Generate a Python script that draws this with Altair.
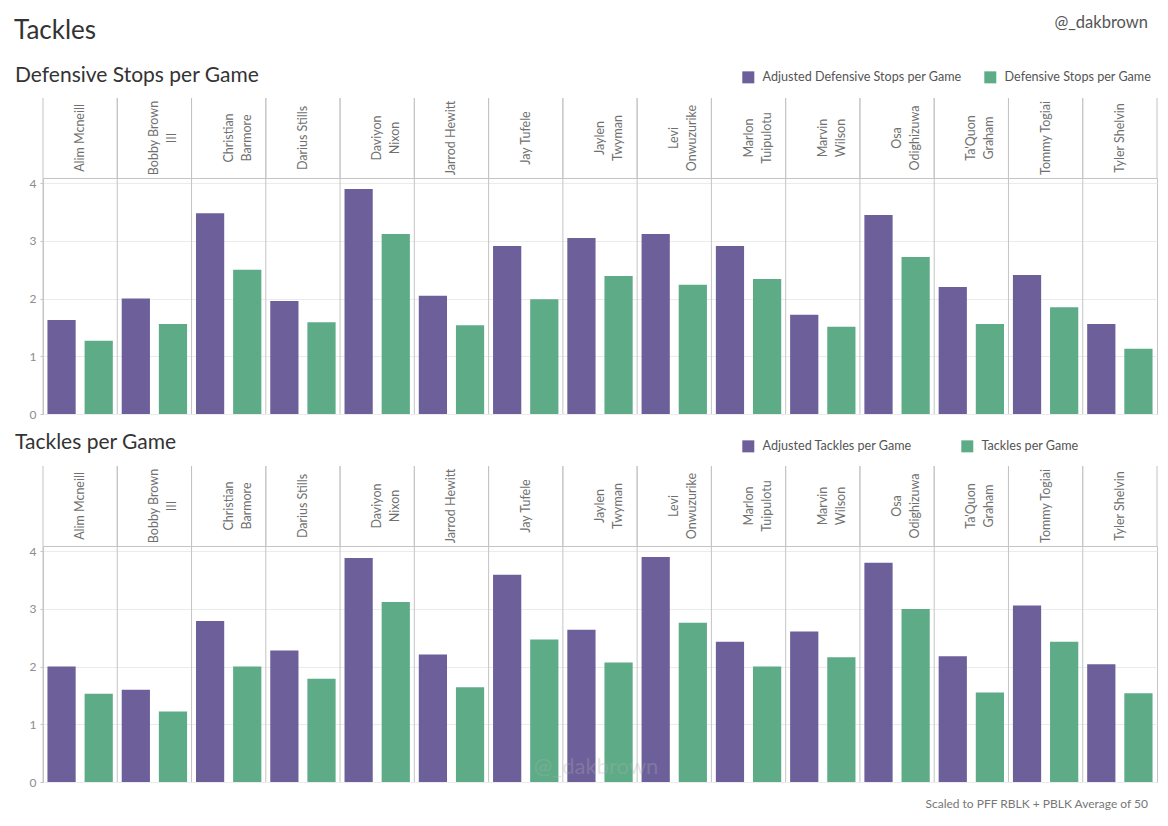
import altair as alt
import pandas as pd

players = ["Alim Mcneill", "Bobby Brown III", "Christian Barmore", "Darius Stills",
           "Daviyon Nixon", "Jarrod Hewitt", "Jay Tufele", "Jaylen Twyman",
           "Levi Onwuzurike", "Marlon Tuipulotu", "Marvin Wilson", "Osa Odighizuwa",
           "Ta'Quon Graham", "Tommy Togiai", "Tyler Shelvin"]
header_labels = ["Alim Mcneill", "Bobby Brown|III", "Christian|Barmore", "Darius Stills",
                 "Daviyon|Nixon", "Jarrod Hewitt", "Jay Tufele", "Jaylen|Twyman",
                 "Levi|Onwuzurike", "Marlon|Tuipulotu", "Marvin|Wilson", "Osa|Odighizuwa",
                 "Ta'Quon|Graham", "Tommy Togiai", "Tyler Shelvin"]

adj_stops = [1.63, 2.00, 3.48, 1.96, 3.90, 2.05, 2.91, 3.05, 3.12, 2.91, 1.72, 3.45, 2.20, 2.41, 1.56]
stops = [1.27, 1.56, 2.50, 1.59, 3.12, 1.54, 1.99, 2.39, 2.24, 2.34, 1.51, 2.72, 1.56, 1.85, 1.13]
adj_tackles = [2.00, 1.60, 2.79, 2.28, 3.88, 2.21, 3.59, 2.64, 3.90, 2.43, 2.61, 3.80, 2.18, 3.06, 2.04]
tackles = [1.53, 1.22, 2.00, 1.79, 3.12, 1.64, 2.47, 2.07, 2.76, 2.00, 2.16, 3.00, 1.55, 2.43, 1.54]

series1 = ["Adjusted Defensive Stops per Game", "Defensive Stops per Game"]
series2 = ["Adjusted Tackles per Game", "Tackles per Game"]

W = 1114
HEAD_H = 80
PLOT_H = 236
GAP_H = 52
PURPLE = "#6c5f9a"
GREEN = "#5eab88"
FONT = "Lato"
BORDER = "#c4c4c4"
NOSTROKE = alt.ViewBackground(stroke="transparent")

x_scale = alt.Scale(domain=players, paddingInner=0, paddingOuter=0)


def label_text(text, x, y, size, color, align="left", opacity=1.0):
    return alt.Chart(pd.DataFrame({"t": [text]})).mark_text(
        align=align, baseline="middle", fontSize=size, font=FONT, color=color, opacity=opacity
    ).encode(text="t:N", x=alt.value(x), y=alt.value(y))


def header(extra):
    hdf = pd.DataFrame({"player": players, "label": header_labels})
    base = alt.Chart(hdf)
    rl = base.mark_rule(color=BORDER).encode(
        x=alt.X("player:N", scale=x_scale, axis=None, bandPosition=0))
    rr = base.mark_rule(color=BORDER).encode(
        x=alt.X("player:N", scale=x_scale, axis=None, bandPosition=1))
    names = base.transform_calculate(lines="split(datum.label, '|')").mark_text(
        angle=270, align="center", baseline="middle", fontSize=12.5, font=FONT,
        color="#707070", lineHeight=18
    ).encode(x=alt.X("player:N", scale=x_scale, axis=None), text="lines:N")
    return alt.layer(rl, rr, names, *extra).properties(
        width=W, height=HEAD_H, view=NOSTROKE)


def bars(v_adj, v, names, col_pad, legend_y, extra):
    df = pd.DataFrame({
        "player": players * 2,
        "measure": [names[0]] * len(players) + [names[1]] * len(players),
        "value": v_adj + v,
    })
    color = alt.Color(
        "measure:N",
        scale=alt.Scale(domain=names, range=[PURPLE, GREEN]),
        sort=names,
        legend=alt.Legend(orient="none", legendX=699, legendY=legend_y,
                          direction="horizontal", title=None, symbolType="square",
                          symbolSize=144, symbolStrokeWidth=0, labelFontSize=12.6,
                          labelFont=FONT, labelColor="#555555", columnPadding=col_pad,
                          labelOffset=8, padding=0, labelLimit=400),
    )
    b = alt.Chart(df).mark_bar().encode(
        x=alt.X("player:N", scale=x_scale, axis=None),
        xOffset=alt.XOffset("measure:N", sort=names,
                            scale=alt.Scale(domain=names, paddingInner=0.24, paddingOuter=0.12)),
        y=alt.Y("value:Q", scale=alt.Scale(domain=[0, 4.09], nice=False),
                axis=alt.Axis(values=[0, 1, 2, 3, 4], title=None, domain=False, tickSize=3,
                              tickColor=BORDER, labelColor="#8c8c8c", labelFontSize=12,
                              labelFont=FONT, labelPadding=4, gridColor="#ebebeb")),
        color=color,
    )
    seps = alt.Chart(pd.DataFrame({"player": players})).mark_rule(color=BORDER).encode(
        x=alt.X("player:N", scale=x_scale, axis=None, bandPosition=0))
    return alt.layer(seps, b, *extra).properties(width=W, height=PLOT_H)


header1 = header([
    label_text("Tackles", -29, -67, 26, "#333333"),
    label_text("@_dakbrown", W - 9, -75, 16.5, "#555555", align="right"),
    label_text("Defensive Stops per Game", -28, -22, 21, "#333333"),
])
bars1 = bars(adj_stops, stops, series1, 22, -107, [])

gap = label_text("Tackles per Game", -28, 29, 21, "#333333").properties(
    width=W, height=GAP_H, view=NOSTROKE)

header2 = header([])
bars2 = bars(adj_tackles, tackles, series2, 49, -106, [
    label_text("@_dakbrown", 553, 221, 22, "#b0b0b0", align="center", opacity=0.3),
    label_text("Scaled to PFF RBLK + PBLK Average of 50", W - 9, 258, 12, "#777777", align="right"),
])

chart = alt.vconcat(header1, bars1, gap, header2, bars2, spacing=0, bounds="flush").resolve_scale(
    color="independent", xOffset="independent"
).configure(
    padding={"left": 5, "top": 6, "right": 2, "bottom": 5}, font=FONT, background="white"
).configure_view(stroke=BORDER, strokeWidth=1)

chart.save("out.html", embed_options={"renderer": "svg", "actions": False})
